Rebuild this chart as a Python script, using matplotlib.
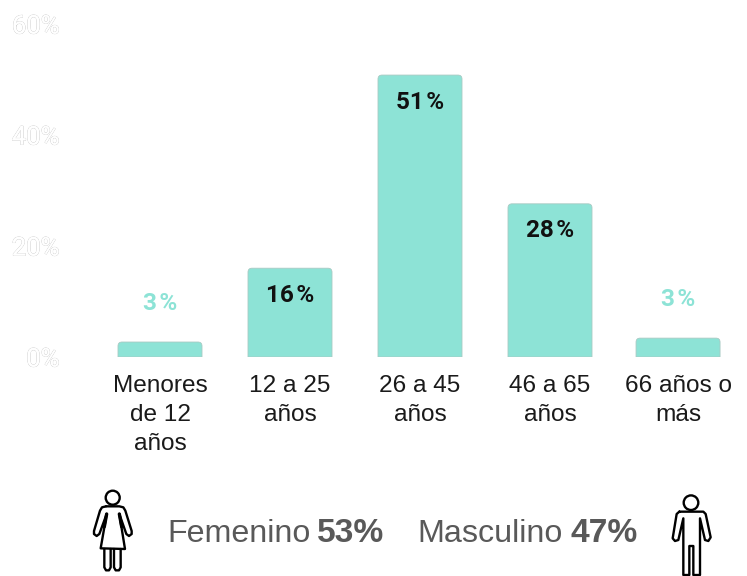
import matplotlib
matplotlib.use('Agg')
import matplotlib.pyplot as plt
import matplotlib.patheffects as pe
from matplotlib.patches import Circle, PathPatch
from matplotlib.path import Path

plt.rcParams['font.family'] = ['Liberation Sans', 'DejaVu Sans']

categorias = ['Menores\nde 12\naños', '12 a 25\naños', '26 a 45\naños', '46 a 65\naños', '66 años o\nmás']
posiciones = [0, 1, 2, 3, 3.985]
valores = [2.7, 16, 50.8, 27.6, 3.4]
etiquetas = ['3%', '16%', '51%', '28%', '3%']
ticks = [0, 20, 40, 60]

VERDE = '#8de3d6'
W, H = 747, 576
ROBOTO = ['Roboto', 'DejaVu Sans']


def barra_redondeada(ax, x, alto, ancho, rx, ry):
    # barra con las esquinas de arriba redondeadas
    x0, x1 = x - ancho / 2, x + ancho / 2
    verts = [(x0, 0), (x0, alto - ry), (x0, alto), (x0 + rx, alto),
             (x1 - rx, alto), (x1, alto), (x1, alto - ry), (x1, 0), (x0, 0)]
    codes = [Path.MOVETO, Path.LINETO, Path.CURVE3, Path.CURVE3,
             Path.LINETO, Path.CURVE3, Path.CURVE3, Path.LINETO, Path.CLOSEPOLY]
    ax.add_patch(PathPatch(Path(verts, codes), facecolor=VERDE, edgecolor='#a9c9c3', linewidth=0.6))


fig = plt.figure(figsize=(W / 100, H / 100), dpi=100)
ax = fig.add_axes([68 / W, (H - 357) / H, (W - 68) / W, 357 / H])
ax.set_xlim((68 - 160) / 130, (W - 160) / 130)
ax.set_ylim(0, 357 / 5.55)

for x, v, et in zip(posiciones, valores, etiquetas):
    barra_redondeada(ax, x, v, 84 / 130, 4 / 130, 4 / 5.55)
    # hair space antes del % porque en el original va mas separado
    texto = et.replace('%', '\u200a%')
    if v > 10:
        ax.annotate(texto, (x, v), xytext=(0, -19.5), textcoords='offset points', ha='center', va='center',
                    fontsize=17.5, fontweight='bold', color='#111111', family=ROBOTO)
    else:
        ax.annotate(texto, (x, v), xytext=(0, 28), textcoords='offset points', ha='center', va='center',
                    fontsize=17.5, fontweight='bold', color=VERDE, family=ROBOTO)

for s in ax.spines.values():
    s.set_visible(False)
ax.set_xticks(posiciones)
ax.set_xticklabels(categorias, fontsize=17.6, color='#1a1a1a', linespacing=1.41)
ax.set_yticks(ticks)
ax.set_yticklabels([f'{t}%' for t in ticks], fontsize=18.5, color='white', family=ROBOTO,
                   path_effects=[pe.withStroke(linewidth=0.6, foreground='#c4c4c4'), pe.Normal()])
ax.tick_params(length=0)
ax.tick_params(axis='x', pad=13)
ax.tick_params(axis='y', pad=6)

# texto de abajo
fig.text(167 / W, 1 - 534 / H, 'Femenino', fontsize=23.2, color='#595959', va='center', ha='left')
fig.text(384 / W, 1 - 534 / H, '53%', fontsize=24.2, color='#595959', va='center', ha='right', fontweight='bold')
fig.text(417 / W, 1 - 534 / H, 'Masculino', fontsize=23.2, color='#595959', va='center', ha='left')
fig.text(638 / W, 1 - 534 / H, '47%', fontsize=24.2, color='#595959', va='center', ha='right', fontweight='bold')

# iconos en pixeles
ic = fig.add_axes([0, 0, 1, 1], facecolor='none')
ic.set_xlim(0, W)
ic.set_ylim(H, 0)
ic.axis('off')


def trazo(pts, ox, oy, lw=1.7):
    ic.plot([ox + p[0] / 3 for p in pts], [oy + p[1] / 3 for p in pts], color='black',
            lw=lw, solid_joinstyle='round', solid_capstyle='round')


# mujer
ic.add_patch(Circle((112.7, 497.7), 7, fill=False, edgecolor='black', lw=1.7))
trazo([(78, 79), (118, 79), (130, 82), (136, 92), (155, 153), (155, 162), (147, 168), (139, 162), (118, 102)], 80, 480)
trazo([(78, 79), (66, 82), (60, 92), (42, 153), (42, 162), (50, 168), (58, 162), (80, 102)], 80, 480)
trazo([(80, 102), (62, 205), (135, 207), (118, 102)], 80, 480)
trazo([(73, 207), (73, 262), (78, 271), (87, 271), (92, 262), (92, 207)], 80, 480)
trazo([(102, 207), (102, 262), (107, 271), (117, 271), (122, 262), (122, 207)], 80, 480)
trazo([(80, 102), (73, 140)], 80, 480, lw=2.4)
trazo([(118, 102), (125, 140)], 80, 480, lw=2.4)

# hombre
ic.add_patch(Circle((691, 502.7), 7.3, fill=False, edgecolor='black', lw=1.7))
trazo([(88, 95), (160, 95), (167, 102), (182, 172), (175, 183), (165, 180), (150, 115), (150, 285), (130, 285), (130, 198), (118, 198), (118, 285), (100, 285), (100, 115), (85, 180), (75, 183), (68, 175), (80, 102), (88, 95)], 650, 480)

fig.savefig('out.png', dpi=100)
